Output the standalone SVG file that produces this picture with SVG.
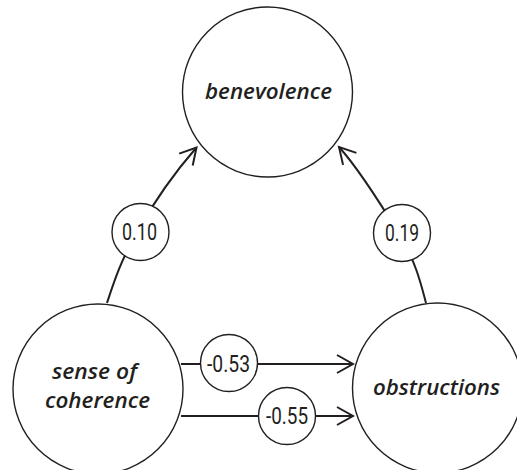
<svg xmlns="http://www.w3.org/2000/svg" width="517" height="470" viewBox="0 0 517 470">
  <style>
    .node { fill: #ffffff; stroke: #231f20; stroke-width: 1.4; }
    .lab { fill: #ffffff; stroke: #231f20; stroke-width: 1.4; }
    .edge { fill: none; stroke: #231f20; stroke-width: 2; }
    .ntext { font-family: "Open Sans", "Liberation Sans", sans-serif; font-style: italic; font-weight: 600; font-size: 22px; fill: #231f20; text-anchor: middle; }
    .vtext { font-family: Roboto, "Liberation Sans", sans-serif; font-weight: 400; font-size: 24px; fill: #231f20; text-anchor: middle; }
  </style>
  <defs>
    <marker id="arrow" markerUnits="userSpaceOnUse" viewBox="-20 -12 24 24" refX="0" refY="0" markerWidth="24" markerHeight="24" orient="auto">
      <path d="M-16,-9 L0,0 L-16,9" fill="none" stroke="#231f20" stroke-width="2" stroke-linejoin="miter"/>
    </marker>
  </defs>
  <rect x="0" y="0" width="517" height="470" fill="#ffffff"/>

  <g id="connectors">
    <path class="edge" d="M107,303 C113,285 120,262 137,232 S175,172 196.5,147.5" marker-end="url(#arrow)"/>
    <path class="edge" d="M426,303 C421,284 416,262 399,234 S358,168 339,147" marker-end="url(#arrow)"/>
    <path class="edge" d="M181,364 L353,364" marker-end="url(#arrow)"/>
    <path class="edge" d="M181,416 L353,416" marker-end="url(#arrow)"/>
    <g id="label-010">
      <circle class="lab" cx="140.5" cy="232" r="28.5"/>
      <text class="vtext" x="139.5" y="240" textLength="35" lengthAdjust="spacingAndGlyphs">0.10</text>
    </g>
    <g id="label-019">
      <circle class="lab" cx="402" cy="233" r="28.5"/>
      <text class="vtext" x="402" y="241" textLength="34" lengthAdjust="spacingAndGlyphs">0.19</text>
    </g>
    <g id="label-053">
      <circle class="lab" cx="229" cy="363" r="28.5"/>
      <text class="vtext" x="228.5" y="372" textLength="43" lengthAdjust="spacingAndGlyphs">-0.53</text>
    </g>
    <g id="label-055">
      <circle class="lab" cx="287" cy="416" r="28.5"/>
      <text class="vtext" x="287" y="424" textLength="42" lengthAdjust="spacingAndGlyphs">-0.55</text>
    </g>
  </g>

  <g id="benevolence">
    <circle class="node" cx="267.5" cy="92" r="85"/>
    <text class="ntext" x="268.5" y="99" textLength="127" lengthAdjust="spacingAndGlyphs">benevolence</text>
  </g>

  <g id="sense-of-coherence">
    <circle class="node" cx="98" cy="389" r="85"/>
    <text class="ntext" x="94.5" y="379" textLength="85" lengthAdjust="spacingAndGlyphs">sense of</text>
    <text class="ntext" x="97.5" y="408" textLength="105" lengthAdjust="spacingAndGlyphs">coherence</text>
  </g>

  <g id="obstructions">
    <circle class="node" cx="437.5" cy="388" r="85"/>
    <text class="ntext" x="436.5" y="394.5" textLength="127" lengthAdjust="spacingAndGlyphs">obstructions</text>
  </g>
</svg>
